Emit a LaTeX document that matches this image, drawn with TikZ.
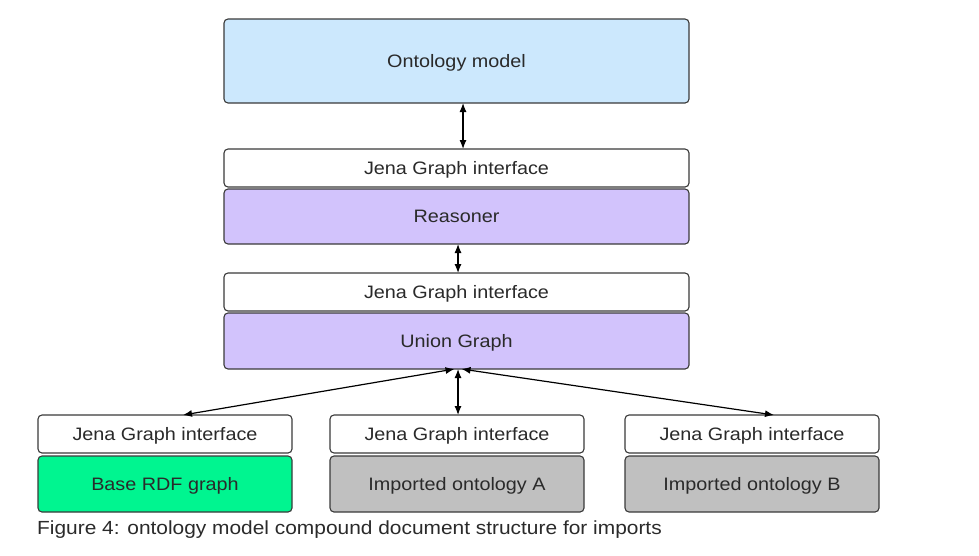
\documentclass[tikz,border=0pt]{standalone}
\usepackage{fontspec}
\setmainfont[FakeStretch=1.1]{Liberation Sans}
\usetikzlibrary{arrows.meta}
\definecolor{txt}{HTML}{2A2A2A}
\definecolor{edge}{HTML}{3A3A3A}
\definecolor{ontoblue}{HTML}{CCE8FD}
\definecolor{lavender}{HTML}{D2C3FC}
\definecolor{rdfgreen}{HTML}{00F590}
\definecolor{impgray}{HTML}{C0C0C0}
\begin{document}
\begin{tikzpicture}[x=1pt,y=1pt,
  box/.style={draw=edge, line width=1.1pt, rounded corners=4pt, outer sep=0pt, inner sep=0pt,
     text=txt, font=\fontsize{18}{20}\selectfont, text depth=0pt},
  bigw/.style={minimum width=465pt},
  smallw/.style={minimum width=254pt},
  iface/.style={box, fill=white, minimum height=38pt},
  core/.style={box, minimum height=55pt},
  conn/.style={line width=1.2pt, draw=black, {Latex[length=9pt,width=7pt]}-{Latex[length=9pt,width=7pt]}}
]
\useasboundingbox (0,0) rectangle (979,-555);

\node[box, bigw, fill=ontoblue, minimum height=84pt] (onto) at (456.5,-61) {Ontology model};

\node[iface, bigw] (jgi1) at (456.5,-168) {Jena Graph interface};
\node[core, bigw, fill=lavender] (reas) at (456.5,-216.5) {Reasoner};

\node[iface, bigw] (jgi2) at (456.5,-292) {Jena Graph interface};
\node[core, bigw, fill=lavender, minimum height=56pt] (union) at (456.5,-341) {Union Graph};

\node[iface, smallw] (jgiL) at (165,-434) {Jena Graph interface};
\node[core, smallw, fill=rdfgreen, minimum height=56pt] (base) at (165,-484) {Base RDF graph};

\node[iface, smallw] (jgiM) at (457,-434) {Jena Graph interface};
\node[core, smallw, fill=impgray, minimum height=56pt] (impA) at (457,-484) {Imported ontology A};

\node[iface, smallw] (jgiR) at (752,-434) {Jena Graph interface};
\node[core, smallw, fill=impgray, minimum height=56pt] (impB) at (752,-484) {Imported ontology B};

\draw[conn] ([xshift=6.5pt]onto.south) -- ([xshift=6.5pt]jgi1.north);
\draw[conn] ([xshift=1.5pt]reas.south) -- ([xshift=1.5pt]jgi2.north);
\draw[conn] ([xshift=1.5pt]union.south) -- ([xshift=1pt]jgiM.north);
\draw[conn] ([xshift=-2pt]union.south) -- ([xshift=18pt]jgiL.north);
\draw[conn] ([xshift=5pt]union.south) -- ([xshift=22pt]jgiR.north);

\node[anchor=west, text=txt, font=\fontsize{19}{21}\selectfont, inner sep=0pt] (cap) at (37,-529.5)
  {Figure 4: ontology model compound document structure for imports};
\end{tikzpicture}
\end{document}
